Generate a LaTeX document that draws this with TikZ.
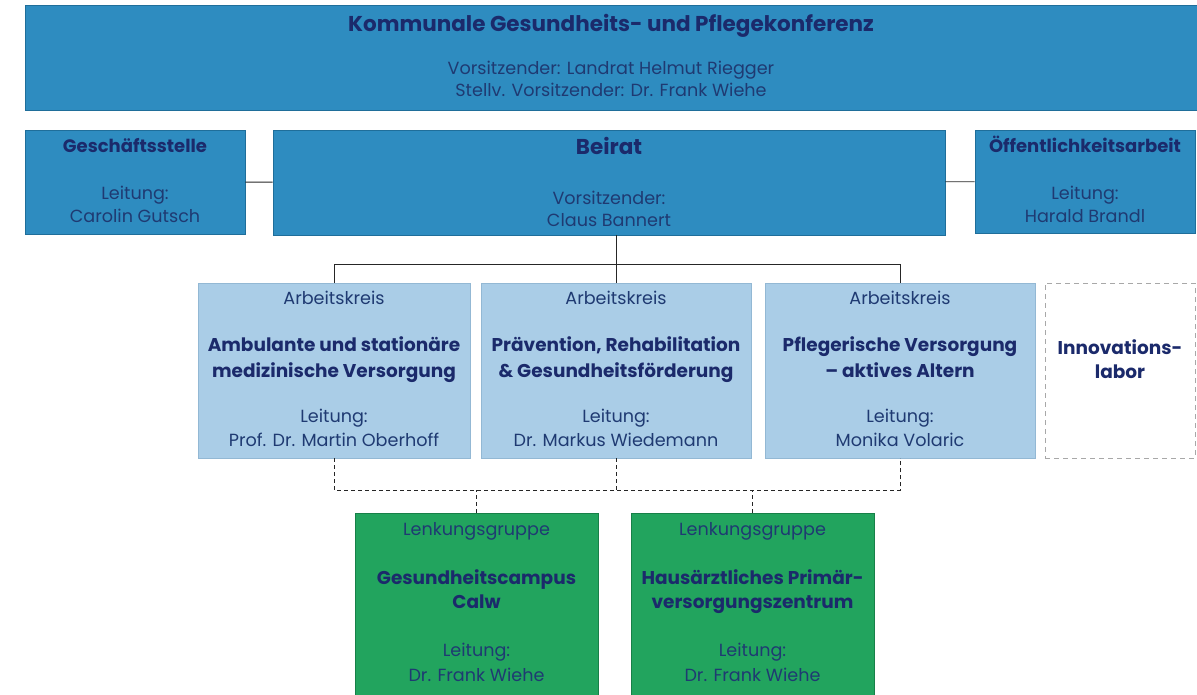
\documentclass[tikz,border=0pt]{standalone}
\usepackage{fontspec}
\setmainfont{Poppins}
\definecolor{topblue}{HTML}{2E8CC0}
\definecolor{topedge}{HTML}{1F6E9A}
\definecolor{lightblue}{HTML}{AACDE7}
\definecolor{lightedge}{HTML}{93B8D4}
\definecolor{green1}{HTML}{22A45E}
\definecolor{greenedge}{HTML}{178048}
\definecolor{navy}{HTML}{1B2A6B}
\definecolor{txt}{HTML}{1F3A72}
\definecolor{dashgray}{HTML}{A8A8A8}
\begin{document}
\begin{tikzpicture}[x=1pt,y=-1pt,
  box/.style={rectangle,inner sep=0pt,line width=0.8pt},
  bluebox/.style={box,fill=topblue,draw=topedge},
  lbbox/.style={box,fill=lightblue,draw=lightedge},
  grbox/.style={box,fill=green1,draw=greenedge},
  innobox/.style={box,draw=dashgray,dashed,line width=1pt,dash pattern=on 5pt off 4pt},
  lbl/.style={inner sep=0pt,text height=2.05ex,text depth=0.3ex},
  head/.style={lbl,font=\bfseries\fontsize{18}{21}\selectfont,text=navy},
  bighead/.style={lbl,font=\bfseries\fontsize{21.5}{24}\selectfont,text=navy},
  akhead/.style={lbl,font=\bfseries\fontsize{18.5}{21}\selectfont,text=navy},
  norm/.style={lbl,font=\fontsize{17.6}{20}\selectfont,text=txt},
  conn/.style={draw=black!85,line width=0.9pt},
  dconn/.style={draw=black!85,line width=1pt,dash pattern=on 4pt off 3pt}]
\useasboundingbox (0,0) rectangle (1197,695);
% boxes
\node[bluebox,minimum width=1172pt,minimum height=105pt] (top) at (611,57.5) {};
\node[bluebox,minimum width=220pt,minimum height=104pt] (ges) at (135,182) {};
\node[bluebox,minimum width=672pt,minimum height=105pt] (beirat) at (609,182.5) {};
\node[bluebox,minimum width=220pt,minimum height=103pt] (oeff) at (1085,181.5) {};
\node[lbbox,minimum width=272pt,minimum height=175pt] (ak1) at (334,370.5) {};
\node[lbbox,minimum width=270pt,minimum height=175pt] (ak2) at (616,370.5) {};
\node[lbbox,minimum width=270pt,minimum height=175pt] (ak3) at (900,370.5) {};
\node[innobox,minimum width=150pt,minimum height=175pt] (inno) at (1120,370.5) {};
\node[grbox,minimum width=243pt,minimum height=184pt] (lg1) at (476.5,605) {};
\node[grbox,minimum width=243pt,minimum height=184pt] (lg2) at (752.5,605) {};
% connectors
\draw[conn] (ges) -- (beirat);
\draw[conn] (beirat) -- (oeff);
\draw[conn] (beirat.south -| ak2.north) -- (ak2.north);
\draw[conn] (ak1.north) -- ++(0,-18) -| (ak3.north);
\draw[dconn] (ak1.south) -- ++(0,32) -| (ak3.south);
\draw[dconn] (ak2.south) -- ++(0,32);
\draw[dconn] (lg1.north) -- ++(0,-23);
\draw[dconn] (lg2.north) -- ++(0,-23);
% texts top
\node[bighead] (t1) at (611,27) {Kommunale Gesundheits- und Pflegekonferenz};
\node[norm] (t2) at (611,70) {Vorsitzender: Landrat Helmut Riegger};
\node[norm] (t3) at (611,92) {Stellv. Vorsitzender: Dr. Frank Wiehe};
% ges
\node[head] (g1) at (135,148) {Geschäftsstelle};
\node[norm] (g2) at (135,195) {Leitung:};
\node[norm] (g3) at (135,218) {Carolin Gutsch};
% beirat
\node[bighead] (b1) at (609,150) {Beirat};
\node[norm] (b2) at (609,200) {Vorsitzender:};
\node[norm] (b3) at (609,222) {Claus Bannert};
% oeff
\node[head] (o1) at (1085,148) {Öffentlichkeitsarbeit};
\node[norm] (o2) at (1085,195) {Leitung:};
\node[norm] (o3) at (1085,218) {Harald Brandl};
% ak1
\node[norm] (a11) at (334,300) {Arbeitskreis};
\node[akhead] (a12) at (334,347) {Ambulante und stationäre};
\node[akhead] (a13) at (334,373) {medizinische Versorgung};
\node[norm] (a14) at (334,418) {Leitung:};
\node[norm] (a15) at (334,442) {Prof. Dr. Martin Oberhoff};
% ak2
\node[norm] (a21) at (616,300) {Arbeitskreis};
\node[akhead] (a22) at (616,347) {Prävention, Rehabilitation};
\node[akhead] (a23) at (616,373) {\& Gesundheitsförderung};
\node[norm] (a24) at (616,418) {Leitung:};
\node[norm] (a25) at (616,442) {Dr. Markus Wiedemann};
% ak3
\node[norm] (a31) at (900,300) {Arbeitskreis};
\node[akhead] (a32) at (900,347) {Pflegerische Versorgung};
\node[akhead] (a33) at (900,373) {– aktives Altern};
\node[norm] (a34) at (900,418) {Leitung:};
\node[norm] (a35) at (900,442) {Monika Volaric};
% inno
\node[akhead] (i1) at (1120,350) {Innovations-};
\node[akhead] (i2) at (1120,374) {labor};
% lg1
\node[norm] (l11) at (476.5,531) {Lenkungsgruppe};
\node[akhead] (l12) at (476.5,580) {Gesundheitscampus};
\node[akhead] (l13) at (476.5,604) {Calw};
\node[norm] (l14) at (476.5,652) {Leitung:};
\node[norm] (l15) at (476.5,677) {Dr. Frank Wiehe};
% lg2
\node[norm] (l21) at (752.5,531) {Lenkungsgruppe};
\node[akhead] (l22) at (752.5,580) {Hausärztliches Primär-};
\node[akhead] (l23) at (752.5,604) {versorgungszentrum};
\node[norm] (l24) at (752.5,652) {Leitung:};
\node[norm] (l25) at (752.5,677) {Dr. Frank Wiehe};
\end{tikzpicture}
\end{document}
